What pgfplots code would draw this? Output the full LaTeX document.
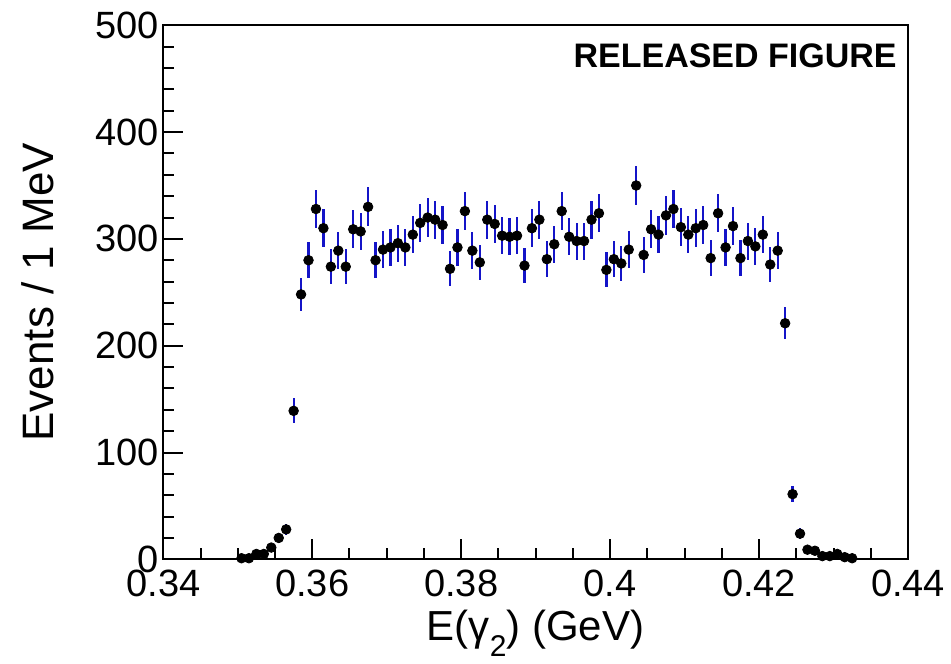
\documentclass[border=0pt]{standalone}
\usepackage{pgfplots}
\pgfplotsset{compat=1.18}
\usepackage{pgfplotstable}
\usepackage{fontspec}
\setmainfont{Liberation Sans}
\definecolor{errblue}{RGB}{20,20,200}
\pgfplotstableread{
x y ey
0.3505 1 1.0
0.3515 1 1.0
0.3525 5 2.2
0.3535 5 2.2
0.3545 11 3.3
0.3555 20 4.5
0.3565 28 5.3
0.3575 139 11.8
0.3585 248 15.7
0.3595 280 16.7
0.3605 328 18.1
0.3615 310 17.6
0.3625 274 16.6
0.3635 289 17.0
0.3645 274 16.6
0.3655 309 17.6
0.3665 307 17.5
0.3675 330 18.2
0.3685 280 16.7
0.3695 290 17.0
0.3705 292 17.1
0.3715 296 17.2
0.3725 292 17.1
0.3735 304 17.4
0.3745 315 17.7
0.3755 320 17.9
0.3765 318 17.8
0.3775 313 17.7
0.3785 272 16.5
0.3795 292 17.1
0.3805 326 18.1
0.3815 289 17.0
0.3825 278 16.7
0.3835 318 17.8
0.3845 314 17.7
0.3855 303 17.4
0.3865 302 17.4
0.3875 303 17.4
0.3885 275 16.6
0.3895 310 17.6
0.3905 318 17.8
0.3915 281 16.8
0.3925 295 17.2
0.3935 326 18.1
0.3945 302 17.4
0.3955 298 17.3
0.3965 298 17.3
0.3975 318 17.8
0.3985 324 18.0
0.3995 271 16.5
0.4005 281 16.8
0.4015 277 16.6
0.4025 290 17.0
0.4035 350 18.7
0.4045 285 16.9
0.4055 309 17.6
0.4065 304 17.4
0.4075 322 17.9
0.4085 328 18.1
0.4095 311 17.6
0.4105 304 17.4
0.4115 310 17.6
0.4125 313 17.7
0.4135 282 16.8
0.4145 324 18.0
0.4155 292 17.1
0.4165 312 17.7
0.4175 282 16.8
0.4185 298 17.3
0.4195 293 17.1
0.4205 304 17.4
0.4215 276 16.6
0.4225 289 17.0
0.4235 221 14.9
0.4245 61 7.8
0.4255 24 4.9
0.4265 9 3.0
0.4275 8 2.8
0.4285 3 1.7
0.4295 3 1.7
0.4305 5 2.2
0.4315 2 1.4
0.4325 1 1.0
}\datatable
\begin{document}
\begin{tikzpicture}
\begin{axis}[
  scale only axis,
  width=372.35pt, height=267pt,
  xmin=0.34, xmax=0.44, ymin=0, ymax=500,
  xtick={0.34,0.36,0.38,0.4,0.42,0.44},
  xticklabels={0.34,0.36,0.38,0.4,0.42,0.44},
  ytick={0,100,200,300,400,500},
  yticklabels={0,100,200,300,400,500},
  minor x tick num=3,
  minor y tick num=4,
  tick align=inside,
  xtick pos=bottom, ytick pos=left,
  major tick length=10pt,
  minor tick length=5.5pt,
  every tick/.style={black, line width=1pt},
  axis line style={line width=1.1pt},
  ticklabel style={font=\fontsize{19}{21}\selectfont},
  yticklabel style={inner xsep=2pt},
  xticklabel style={inner ysep=5pt},
  clip=false,
]
\addplot[only marks, mark=*, mark size=2.4pt, mark options={black, fill=black},
  error bars/.cd, y dir=both, y explicit,
  error mark=none, error bar style={errblue, line width=1.1pt}]
  table[x=x, y=y, y error=ey] {\datatable};
\node[anchor=base east, inner sep=0pt, font=\bfseries\fontsize{17}{19}\selectfont]
  at ([xshift=-5.5pt, yshift=-21pt]rel axis cs:1,1) {RELEASED FIGURE};
\node[anchor=base, inner sep=0pt, font=\fontsize{21}{24}\selectfont]
  at ([yshift=-40.5pt]rel axis cs:0.5,0) {E(γ\raisebox{-0.75ex}{\fontsize{15}{17}\selectfont 2}) (GeV)};
\node[anchor=base, rotate=90, inner sep=0pt, font=\fontsize{22}{25}\selectfont]
  at ([xshift=-55pt]rel axis cs:0,0.5) {Events / 1 MeV};
\end{axis}
\pgfresetboundingbox
\path ([xshift=-81.65pt, yshift=-51.85pt]current axis.south west) rectangle ([xshift=21.5pt, yshift=12.65pt]current axis.north east);
\end{tikzpicture}
\end{document}
